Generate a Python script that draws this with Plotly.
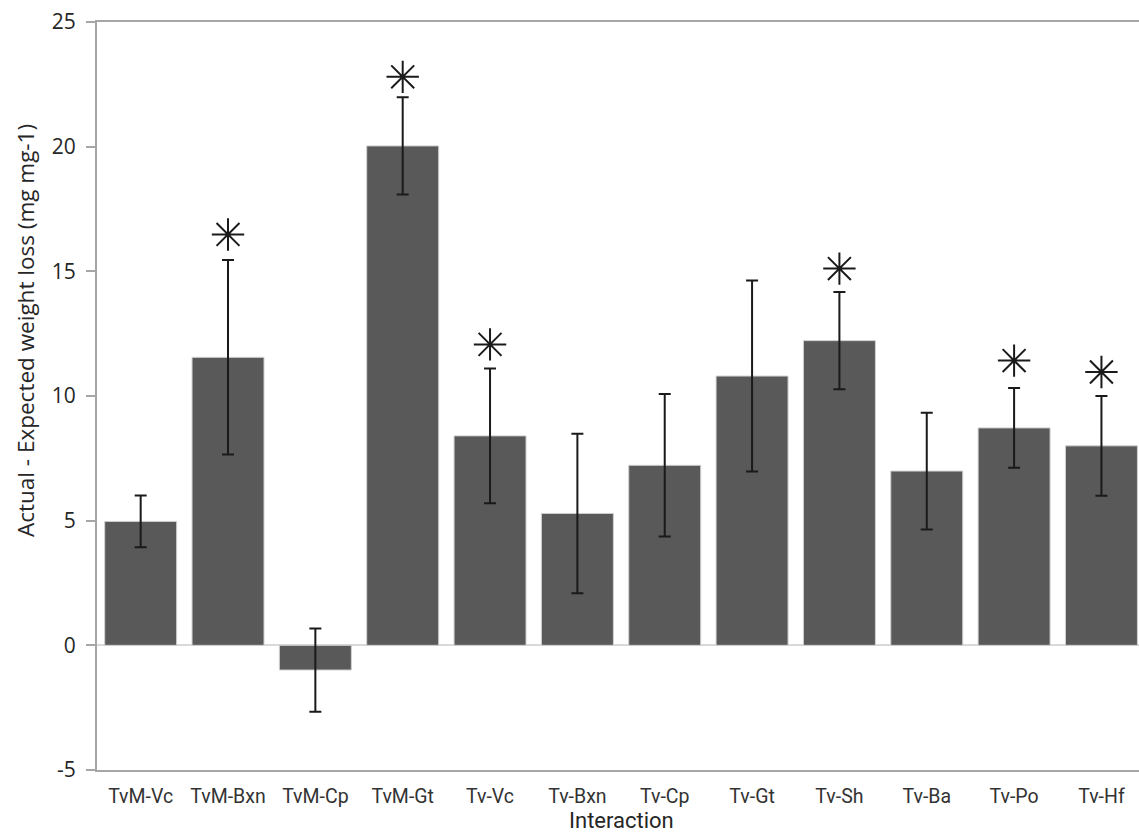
import plotly.graph_objects as go

categories = ["TvM-Vc", "TvM-Bxn", "TvM-Cp", "TvM-Gt", "Tv-Vc", "Tv-Bxn",
              "Tv-Cp", "Tv-Gt", "Tv-Sh", "Tv-Ba", "Tv-Po", "Tv-Hf"]
values = [4.97, 11.55, -0.99, 20.03, 8.40, 5.29, 7.22, 10.80, 12.22, 6.99, 8.72, 8.00]
errors = [1.04, 3.90, 1.67, 1.95, 2.70, 3.20, 2.86, 3.83, 1.95, 2.34, 1.60, 2.00]
sig_categories = ["TvM-Bxn", "TvM-Gt", "Tv-Vc", "Tv-Sh", "Tv-Po", "Tv-Hf"]
sig_marker_y = [16.48, 22.80, 12.07, 15.11, 11.42, 10.96]
y_ticks = [-5, 0, 5, 10, 15, 20, 25]
y_tick_labels = ["-5", "0", "5", "10", "15", "20", "25"]

PLOT_L, PLOT_T, PLOT_B = 97, 22, 770
W, H = 1139, 836
plot_w = W - PLOT_L
plot_h = PLOT_B - PLOT_T

fig = go.Figure()
fig.add_trace(go.Bar(
    x=categories, y=values,
    marker=dict(color="#595959", line=dict(color="#d0d0d0", width=1)),
    error_y=dict(type="data", array=errors, visible=True,
                 color="#1a1a1a", thickness=2, width=6),
    showlegend=False,
))
fig.add_trace(go.Scatter(
    x=sig_categories, y=sig_marker_y, mode="markers",
    marker=dict(symbol="asterisk-open", size=27, color="#1a1a1a",
                line=dict(color="#1a1a1a", width=2)),
    showlegend=False,
))

fig.update_layout(
    width=W, height=H,
    margin=dict(l=PLOT_L, r=0, t=PLOT_T, b=H - PLOT_B),
    paper_bgcolor="white", plot_bgcolor="white",
    bargap=0.176,
    xaxis=dict(
        range=[-0.5, 11.43],
        showline=True, linecolor="#a6a6a6", linewidth=2, mirror=True,
        ticks="", showgrid=False,
        tickfont=dict(family="Roboto, Liberation Sans", size=19.5, color="#333333"),
        ticklabelstandoff=8,
    ),
    yaxis=dict(
        range=[-5, 25], tickvals=y_ticks, ticktext=y_tick_labels,
        showline=True, linecolor="#a6a6a6", linewidth=2,
        ticks="outside", ticklen=9, tickcolor="#a6a6a6", tickwidth=1.5,
        showgrid=False,
        zeroline=True, zerolinecolor="#d9d9d9", zerolinewidth=2,
        tickfont=dict(family="Open Sans, DejaVu Sans", size=21, color="#262626"),
        ticklabelstandoff=6,
    ),
    annotations=[
        dict(text="Interaction", xref="paper", yref="paper",
             x=(621 - PLOT_L) / plot_w, y=-(806 - PLOT_B) / plot_h,
             xanchor="center", yanchor="top",
             showarrow=False,
             font=dict(family="Roboto, Liberation Sans", size=22, color="#262626")),
        dict(text="Actual - Expected weight loss (mg mg-1)", xref="paper", yref="paper",
             x=(25 - PLOT_L) / plot_w, y=(PLOT_B - 331) / plot_h,
             xanchor="center", yanchor="middle",
             textangle=-90, showarrow=False,
             font=dict(family="Open Sans, DejaVu Sans", size=22.5, color="#262626")),
    ],
)

fig.write_html("out.html", config={"displayModeBar": False},
               post_script="document.body.style.margin='0';")
